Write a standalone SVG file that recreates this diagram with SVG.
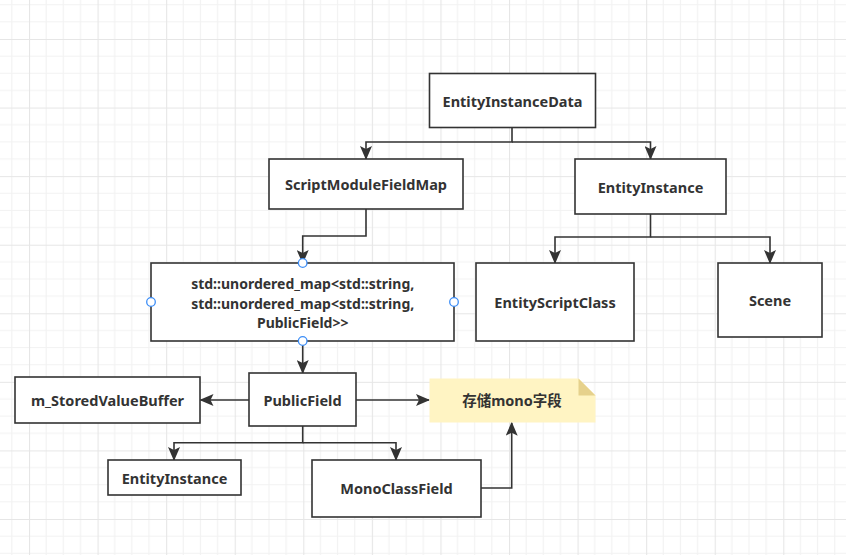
<svg xmlns="http://www.w3.org/2000/svg" width="846" height="555" viewBox="0 0 846 555">
<defs>
<pattern id="grid" x="29" y="39" width="68.571" height="68.571" patternUnits="userSpaceOnUse">
<path d="M17.143,0V68.571M34.286,0V68.571M51.429,0V68.571M0,17.143H68.571M0,34.286H68.571M0,51.429H68.571" stroke="#f2f2f2" stroke-width="1.2" fill="none"/>
<path d="M0.5,0V68.571M0,0.5H68.571" stroke="#e6e6e6" stroke-width="1.2" fill="none"/>
</pattern>
<marker id="arr" markerUnits="userSpaceOnUse" markerWidth="14" markerHeight="12" viewBox="0 0 14 12" refX="13" refY="6" orient="auto">
<path d="M0,0 L14,6 L0,12 L3,6 Z" fill="#333333"/>
</marker>
<style>
.box{fill:#ffffff;stroke:#333333;stroke-width:1.6}
.t{font-family:"Noto Sans","Liberation Sans","Noto Sans CJK SC",sans-serif;font-weight:bold;font-size:14.5px;fill:#333333;text-anchor:middle;dominant-baseline:central}
.s{font-size:14px}
.c{fill:none;stroke:#333333;stroke-width:1.6;marker-end:url(#arr)}
.h{fill:#ffffff;stroke:#3d8ef7;stroke-width:1.3}
</style>
</defs>
<rect width="846" height="555" fill="#ffffff"/>
<rect width="846" height="555" fill="url(#grid)"/>

<g id="connectors">
<path class="c" d="M512,127.5 V142 H366 V159"/>
<path class="c" d="M512,142 H650.5 V159"/>
<path class="c" d="M366,209 V236 H302.7 V263"/>
<path class="c" d="M650.5,214 V237 H555 V263"/>
<path class="c" d="M650.5,237 H770 V263"/>
<path class="c" d="M302.7,341 V373"/>
<path class="c" d="M249,400 H200.5"/>
<path class="c" d="M356,400 H429"/>
<path class="c" d="M302.7,426 V442.7 H174 V460"/>
<path class="c" d="M302.7,442.7 H396 V460"/>
<path class="c" d="M481,488 H511.7 V422.7"/>
</g>

<g id="entityInstanceData">
<rect class="box" x="429.5" y="73.5" width="166" height="54"/>
<text class="t" x="512.5" y="100.5">EntityInstanceData</text>
</g>
<g id="scriptModuleFieldMap">
<rect class="box" x="269" y="159" width="194" height="50"/>
<text class="t" x="366" y="184">ScriptModuleFieldMap</text>
</g>
<g id="entityInstanceTop">
<rect class="box" x="575" y="159" width="151" height="55"/>
<text class="t" x="650.5" y="186.5">EntityInstance</text>
</g>
<g id="unorderedMap">
<rect class="box" x="151" y="263" width="303" height="78"/>
<text class="t s" x="302.7" y="283.6">std::unordered_map&lt;std::string,</text>
<text class="t s" x="302.7" y="303">std::unordered_map&lt;std::string,</text>
<text class="t s" x="302.7" y="322.4">PublicField&gt;&gt;</text>
<circle class="h" cx="302.7" cy="263" r="4.3"/>
<circle class="h" cx="151" cy="302" r="4.3"/>
<circle class="h" cx="454" cy="302" r="4.3"/>
<circle class="h" cx="302.7" cy="341" r="4.3"/>
</g>
<g id="entityScriptClass">
<rect class="box" x="476" y="263" width="158" height="78"/>
<text class="t" x="555" y="302">EntityScriptClass</text>
</g>
<g id="scene">
<rect class="box" x="718" y="263" width="104" height="74"/>
<text class="t" x="770" y="299.5">Scene</text>
</g>
<g id="storedValueBuffer">
<rect class="box" x="15" y="377" width="185" height="46"/>
<text class="t" x="107.5" y="400">m_StoredValueBuffer</text>
</g>
<g id="publicField">
<rect class="box" x="249" y="373" width="107" height="53"/>
<text class="t" x="302.5" y="399.5">PublicField</text>
</g>
<g id="note">
<path d="M429.5,378.5 H578.5 L595.5,395.5 V422.5 H429.5 Z" fill="#fff4c3"/>
<path d="M578.5,378.5 V395.5 H595.5 Z" fill="#e6d18c"/>
<text class="t" x="512" y="400">存储mono字段</text>
</g>
<g id="entityInstanceBottom">
<rect class="box" x="108" y="460" width="133" height="35"/>
<text class="t" x="174.5" y="477.5">EntityInstance</text>
</g>
<g id="monoClassField">
<rect class="box" x="312" y="460" width="169" height="57"/>
<text class="t" x="396.5" y="488">MonoClassField</text>
</g>
</svg>
